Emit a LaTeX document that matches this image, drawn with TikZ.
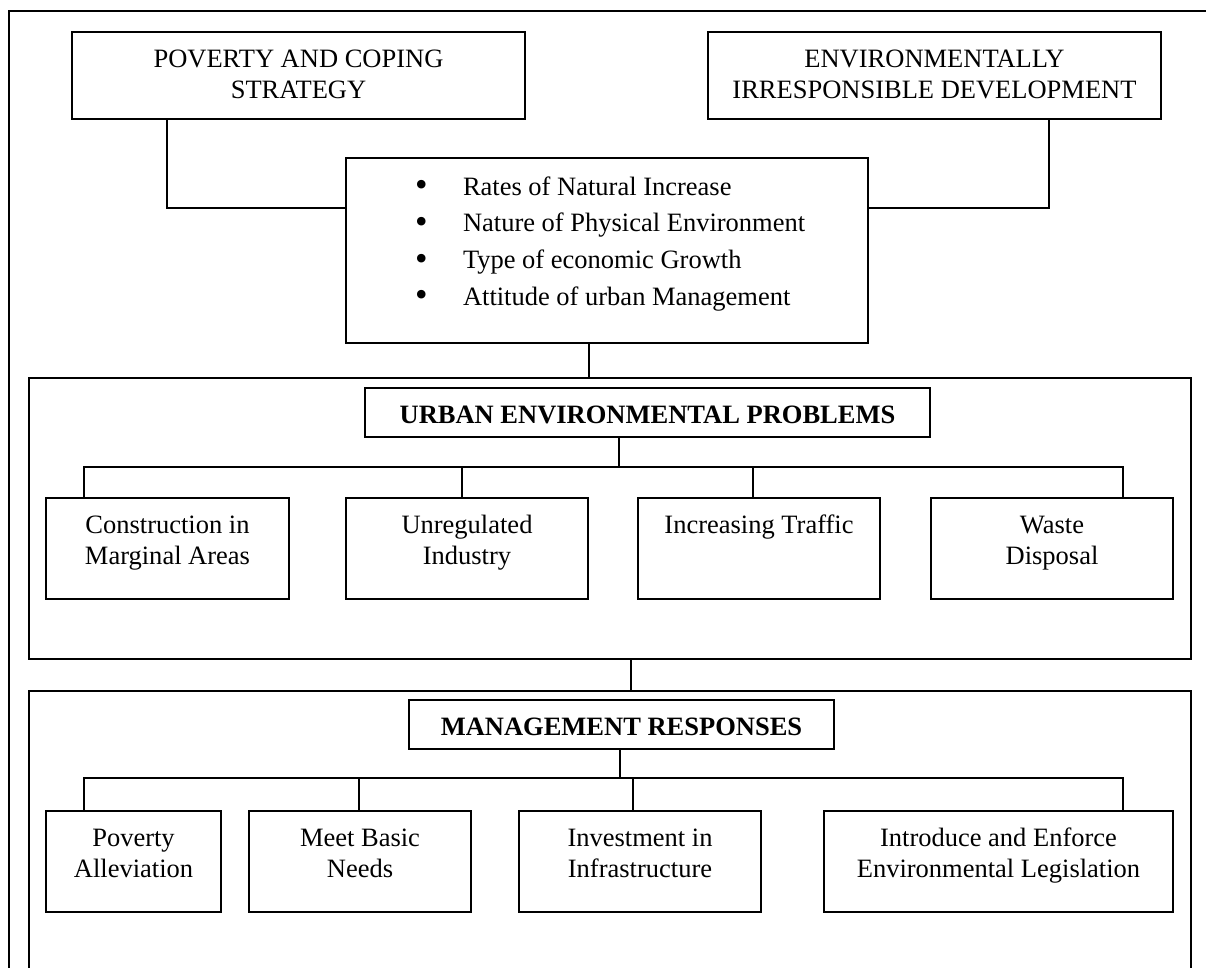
\documentclass[tikz,border=0pt]{standalone}
\usepackage{fontspec}
\usepackage{graphicx}
\setmainfont{Liberation Serif}
\newcommand{\boxtxt}[3]{\parbox[c][#2][t]{#1}{\centering\rule{0pt}{35pt}#3\par}}
\newcommand{\bul}{\hspace*{69pt}\makebox[48pt][l]{\raisebox{-1.5pt}{\scalebox{1.35}{•}}}}
\begin{document}
\begin{tikzpicture}[x=1pt,y=-1pt,
  box/.style={draw, line width=1.5pt, inner sep=0pt, outer sep=0pt, anchor=north west,
              font=\fontsize{26.5}{31}\selectfont},
  frame/.style={draw, line width=1.5pt, inner sep=0pt, outer sep=0pt, anchor=north west},
  conn/.style={line width=1.5pt}]
\useasboundingbox (0,0) rectangle (1206,967);
\clip (0,0) rectangle (1206,967);

% outer frame
\node[frame, minimum width=1221pt, minimum height=990pt] (outer) at (9,11) {};

% top boxes
\node[box, minimum width=453pt, minimum height=87pt] (pov) at (72,32)
  {\boxtxt{453pt}{87pt}{POVERTY AND COPING\\STRATEGY}};
\node[box, minimum width=453pt, minimum height=87pt] (env) at (708,32)
  {\boxtxt{453pt}{87pt}{ENVIRONMENTALLY\\IRRESPONSIBLE DEVELOPMENT}};

% factors box
\node[box, minimum width=522pt, minimum height=185pt] (factors) at (346,158)
  {\parbox[c][185pt][t]{522pt}{\fontsize{26.5}{36.8}\selectfont\raggedright
   \rule{0pt}{37pt}\bul Rates of Natural Increase\\
   \bul Nature of Physical Environment\\
   \bul Type of economic Growth\\
   \bul Attitude of urban Management\par}};

% urban environmental problems
\node[frame, minimum width=1162pt, minimum height=281pt] (uepframe) at (29,378) {};
\node[box, minimum width=565pt, minimum height=49pt] (ueptitle) at (365,388)
  {\boxtxt{565pt}{49pt}{\bfseries URBAN ENVIRONMENTAL PROBLEMS}};
\node[box, minimum width=243pt, minimum height=101pt] (cons) at (46,498)
  {\boxtxt{243pt}{101pt}{Construction in\\Marginal Areas}};
\node[box, minimum width=242pt, minimum height=101pt] (unreg) at (346,498)
  {\boxtxt{242pt}{101pt}{Unregulated\\Industry}};
\node[box, minimum width=242pt, minimum height=101pt] (traffic) at (638,498)
  {\boxtxt{242pt}{101pt}{Increasing Traffic}};
\node[box, minimum width=242pt, minimum height=101pt] (waste) at (931,498)
  {\boxtxt{242pt}{101pt}{Waste\\Disposal}};

% management responses
\node[frame, minimum width=1162pt, minimum height=320pt] (mrframe) at (29,691) {};
\node[box, minimum width=425pt, minimum height=49pt] (mrtitle) at (409,700)
  {\boxtxt{425pt}{49pt}{\bfseries MANAGEMENT RESPONSES}};
\node[box, minimum width=175pt, minimum height=101pt] (poval) at (46,811)
  {\boxtxt{175pt}{101pt}{Poverty\\Alleviation}};
\node[box, minimum width=222pt, minimum height=101pt] (needs) at (249,811)
  {\boxtxt{222pt}{101pt}{Meet Basic\\Needs}};
\node[box, minimum width=242pt, minimum height=101pt] (invest) at (519,811)
  {\boxtxt{242pt}{101pt}{Investment in\\Infrastructure}};
\node[box, minimum width=349pt, minimum height=101pt] (legis) at (824,811)
  {\boxtxt{349pt}{101pt}{Introduce and Enforce\\Environmental Legislation}};

% connectors
\draw[conn] (pov.south -| 167,0) -- (167,208) -- (factors.west |- 0,208);
\draw[conn] (env.south -| 1049,0) -- (1049,208) -- (factors.east |- 0,208);
\draw[conn] (factors.south -| 589,0) -- (uepframe.north -| 589,0);

\draw[conn] (ueptitle.south -| 619,0) -- (619,467);
\draw[conn] (cons.north -| 84,0) -- (84,467) -- (1123,467) -- (waste.north -| 1123,0);
\draw[conn] (unreg.north -| 462,0) -- (462,467);
\draw[conn] (traffic.north -| 753,0) -- (753,467);

\draw[conn] (uepframe.south -| 631,0) -- (mrframe.north -| 631,0);

\draw[conn] (mrtitle.south -| 620,0) -- (620,778);
\draw[conn] (poval.north -| 84,0) -- (84,778) -- (1123,778) -- (legis.north -| 1123,0);
\draw[conn] (needs.north -| 359,0) -- (359,778);
\draw[conn] (invest.north -| 633,0) -- (633,778);
\end{tikzpicture}
\end{document}
